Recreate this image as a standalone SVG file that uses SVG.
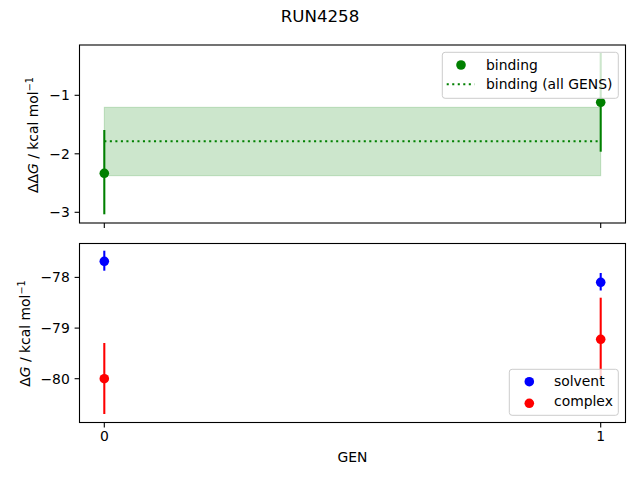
<svg xmlns="http://www.w3.org/2000/svg" width="640" height="480" viewBox="0 0 640 480">
<style>
text{font-family:"DejaVu Sans","Liberation Sans",sans-serif;fill:#000}
.tick{font-size:13.9px}
.yl{text-anchor:end}
.xl{text-anchor:middle}
.spine{fill:none;stroke:#000;stroke-width:1.1}
.tk{stroke:#000;stroke-width:1.1}
.eb{stroke-width:2.08;fill:none}
.leg{fill:#fff;fill-opacity:0.8;stroke:#ccc;stroke-width:1}
.lt{font-size:13.9px}
</style>
<rect width="640" height="480" fill="#fff"/>
<g id="title"><text x="320" y="22" font-size="16.67" text-anchor="middle">RUN4258</text></g>

<g id="top-axes">
  <rect x="104.3" y="107.3" width="496.4" height="68.4" fill="#008000" fill-opacity="0.2" stroke="#008000" stroke-opacity="0.2" stroke-width="1"/>
  <line x1="104.3" y1="141.2" x2="600.7" y2="141.2" stroke="#008000" stroke-width="2.08" stroke-dasharray="2.08,3.44"/>
  <g id="binding-0">
    <line class="eb" x1="104.3" y1="130" x2="104.3" y2="214.3" stroke="#008000"/>
    <circle cx="104.3" cy="173.3" r="4.8" fill="#008000"/>
  </g>
  <g id="binding-1">
    <line class="eb" x1="600.7" y1="53" x2="600.7" y2="151.7" stroke="#008000"/>
    <circle cx="600.7" cy="102.3" r="4.8" fill="#008000"/>
  </g>
  <rect class="spine" x="79.5" y="45" width="546" height="178"/>
  <line class="tk" x1="104.3" y1="223" x2="104.3" y2="227.9"/>
  <line class="tk" x1="600.7" y1="223" x2="600.7" y2="227.9"/>
  <line class="tk" x1="79.5" y1="95.3" x2="74.6" y2="95.3"/>
  <line class="tk" x1="79.5" y1="153.8" x2="74.6" y2="153.8"/>
  <line class="tk" x1="79.5" y1="212.3" x2="74.6" y2="212.3"/>
  <text class="tick yl" x="69.8" y="100.3">−1</text>
  <text class="tick yl" x="69.8" y="158.8">−2</text>
  <text class="tick yl" x="69.8" y="217.3">−3</text>
  <text font-size="13.9" transform="translate(38,135) rotate(-90)" text-anchor="middle">ΔΔ<tspan font-style="italic">G</tspan> / kcal mol<tspan font-size="9.7" dy="-5.5">−1</tspan></text>
  <g id="legend-top">
    <rect class="leg" x="442.3" y="52.3" width="176" height="46" rx="2.8"/>
    <circle cx="461" cy="65" r="4.8" fill="#008000"/>
    <text class="lt" x="486" y="69.5">binding</text>
    <line x1="446.7" y1="84.3" x2="474.5" y2="84.3" stroke="#008000" stroke-width="2.08" stroke-dasharray="2.08,3.44"/>
    <text class="lt" x="486" y="89">binding (all GENS)</text>
  </g>
</g>

<g id="bottom-axes">
  <g id="solvent-0">
    <line class="eb" x1="104.3" y1="250.7" x2="104.3" y2="270.7" stroke="#0000ff"/>
    <circle cx="104.3" cy="261.3" r="4.8" fill="#0000ff"/>
  </g>
  <g id="complex-0">
    <line class="eb" x1="104.3" y1="343" x2="104.3" y2="414" stroke="#ff0000"/>
    <circle cx="104.3" cy="378.7" r="4.8" fill="#ff0000"/>
  </g>
  <g id="solvent-1">
    <line class="eb" x1="600.7" y1="273" x2="600.7" y2="290.5" stroke="#0000ff"/>
    <circle cx="600.7" cy="282.3" r="4.8" fill="#0000ff"/>
  </g>
  <g id="complex-1">
    <line class="eb" x1="600.7" y1="297.7" x2="600.7" y2="381" stroke="#ff0000"/>
    <circle cx="600.7" cy="339.3" r="4.8" fill="#ff0000"/>
  </g>
  <rect class="spine" x="79.5" y="243.5" width="546" height="179"/>
  <line class="tk" x1="104.3" y1="422.5" x2="104.3" y2="427.4"/>
  <line class="tk" x1="600.7" y1="422.5" x2="600.7" y2="427.4"/>
  <text class="tick xl" x="104.3" y="441">0</text>
  <text class="tick xl" x="600.7" y="441">1</text>
  <line class="tk" x1="79.5" y1="277.4" x2="74.6" y2="277.4"/>
  <line class="tk" x1="79.5" y1="328.1" x2="74.6" y2="328.1"/>
  <line class="tk" x1="79.5" y1="378.7" x2="74.6" y2="378.7"/>
  <text class="tick yl" x="69.8" y="282.4">−78</text>
  <text class="tick yl" x="69.8" y="333.1">−79</text>
  <text class="tick yl" x="69.8" y="383.7">−80</text>
  <text font-size="13.9" transform="translate(30,333.5) rotate(-90)" text-anchor="middle">Δ<tspan font-style="italic">G</tspan> / kcal mol<tspan font-size="9.7" dy="-5.5">−1</tspan></text>
  <text font-size="13.9" x="352.5" y="462.3" text-anchor="middle">GEN</text>
  <g id="legend-bottom">
    <rect class="leg" x="509.3" y="369.3" width="109" height="46" rx="2.8"/>
    <circle cx="529.3" cy="381.7" r="4.8" fill="#0000ff"/>
    <text class="lt" x="554" y="385.8">solvent</text>
    <circle cx="529.3" cy="403.3" r="4.8" fill="#ff0000"/>
    <text class="lt" x="554" y="405.8">complex</text>
  </g>
</g>
</svg>
